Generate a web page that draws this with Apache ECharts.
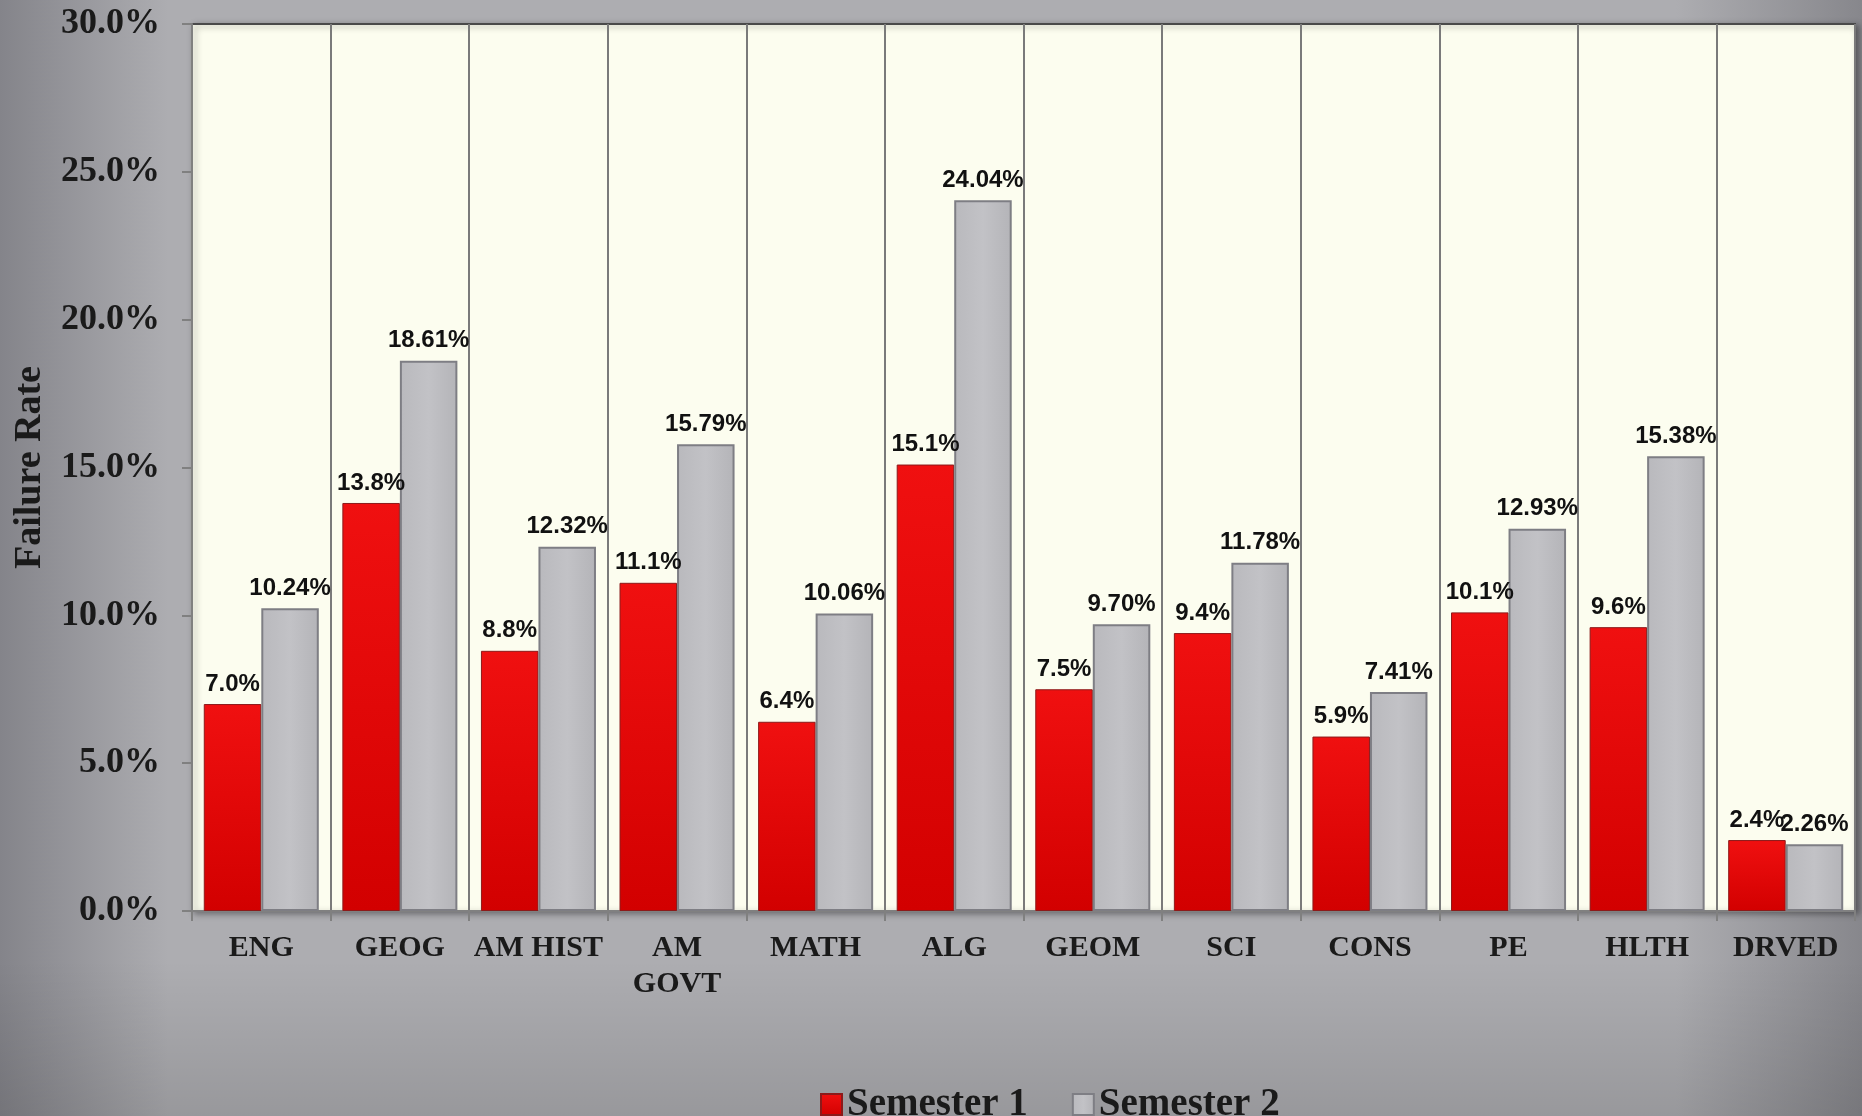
<!DOCTYPE html>
<html>
<head>
<meta charset="utf-8">
<script src="https://cdn.jsdelivr.net/npm/echarts@6/dist/echarts.min.js"></script>
<style>
  html, body { margin: 0; padding: 0; }
  #chart { width: 1862px; height: 1116px; }
</style>
</head>
<body>
<div id="chart"></div>
<script>
// categories and values (percent)
var subjects = ['ENG', 'GEOG', 'AM HIST', 'AM\nGOVT', 'MATH', 'ALG', 'GEOM', 'SCI', 'CONS', 'PE', 'HLTH', 'DRVED'];
var semester1 = [7.0, 13.8, 8.8, 11.1, 6.4, 15.1, 7.5, 9.4, 5.9, 10.1, 9.6, 2.4];
var semester2 = [10.24, 18.61, 12.32, 15.79, 10.06, 24.04, 9.70, 11.78, 7.41, 12.93, 15.38, 2.26];
var yTicks = [0, 5, 10, 15, 20, 25, 30];

var serif = '"Liberation Serif", "DejaVu Serif", serif';
var sans = '"Liberation Sans", Arial, sans-serif';

var myChart = echarts.init(document.getElementById('chart'));

var option = {
    backgroundColor: {
        type: 'linear', x: 0, y: 0, x2: 1, y2: 0,
        colorStops: [
            { offset: 0, color: '#84848a' },
            { offset: 0.09, color: '#adadb1' },
            { offset: 0.9, color: '#adadb1' },
            { offset: 1, color: '#87878c' }
        ]
    },
    graphic: [{
        type: 'rect',
        z: -1,
        shape: { x: 0, y: 960, width: 1862, height: 156 },
        style: {
            fill: {
                type: 'linear', x: 0, y: 0, x2: 0, y2: 1,
                colorStops: [
                    { offset: 0, color: 'rgba(0,0,0,0)' },
                    { offset: 1, color: 'rgba(0,0,0,0.12)' }
                ]
            }
        }
    }],
    grid: {
        left: 192,
        right: 7,
        top: 24,
        bottom: 205,
        show: true,
        backgroundColor: '#fcfdef',
        borderColor: '#4a4a4a',
        borderWidth: 2,
        shadowColor: 'rgba(0,0,0,0.35)',
        shadowBlur: 6,
        shadowOffsetX: 3,
        shadowOffsetY: 2
    },
    legend: {
        bottom: -13,
        left: 815,
        icon: 'rect',
        itemWidth: 21,
        itemHeight: 21,
        itemGap: 44,
        textStyle: { fontFamily: serif, fontWeight: 'bold', fontSize: 39, color: '#1a1a1a' },
        data: ['Semester 1', 'Semester 2']
    },
    xAxis: {
        type: 'category',
        data: subjects,
        axisLine: { lineStyle: { color: '#808080', width: 2 } },
        axisTick: { show: true, length: 10, lineStyle: { color: '#808080', width: 2 } },
        splitLine: { show: true, lineStyle: { color: '#7a7a7a', width: 2 } },
        axisLabel: {
            fontFamily: serif,
            fontWeight: 'bold',
            fontSize: 30,
            color: '#1a1a1a',
            margin: 19,
            lineHeight: 36,
            interval: 0
        }
    },
    yAxis: {
        type: 'value',
        min: 0,
        max: 30,
        interval: 5,
        name: 'Failure Rate',
        nameLocation: 'middle',
        nameGap: 143,
        nameTextStyle: { fontFamily: serif, fontWeight: 'bold', fontSize: 38, color: '#1a1a1a' },
        axisLine: { show: true, lineStyle: { color: '#808080', width: 2 } },
        axisTick: { show: true, length: 10, lineStyle: { color: '#808080', width: 2 } },
        splitLine: { show: false },
        axisLabel: {
            fontFamily: serif,
            fontWeight: 'bold',
            fontSize: 36,
            color: '#1a1a1a',
            margin: 32,
            formatter: function (v) { return v.toFixed(1) + '%'; }
        }
    },
    series: [{
        name: 'Semester 1',
        type: 'bar',
        data: semester1,
        barGap: '0%',
        barCategoryGap: '17%',
        itemStyle: {
            color: {
                type: 'linear', x: 0, y: 0, x2: 0, y2: 1,
                colorStops: [
                    { offset: 0, color: '#f01010' },
                    { offset: 1, color: '#d20000' }
                ]
            },
            borderColor: '#8c1a1a',
            borderWidth: 1
        },
        label: {
            show: true,
            position: 'top',
            distance: 8,
            fontFamily: sans,
            fontWeight: 'bold',
            fontSize: 24,
            color: '#111',
            formatter: function (p) { return p.value.toFixed(1) + '%'; }
        }
    }, {
        name: 'Semester 2',
        type: 'bar',
        data: semester2,
        itemStyle: {
            color: {
                type: 'linear', x: 0, y: 0, x2: 1, y2: 0,
                colorStops: [
                    { offset: 0, color: '#b9b9bd' },
                    { offset: 0.5, color: '#c2c2c6' },
                    { offset: 1, color: '#b4b4b8' }
                ]
            },
            borderColor: '#7e7e84',
            borderWidth: 2
        },
        label: {
            show: true,
            position: 'top',
            distance: 8,
            fontFamily: sans,
            fontWeight: 'bold',
            fontSize: 24,
            color: '#111',
            formatter: function (p) { return p.value.toFixed(2) + '%'; }
        }
    }]
};

myChart.setOption(option);
</script>
</body>
</html>
